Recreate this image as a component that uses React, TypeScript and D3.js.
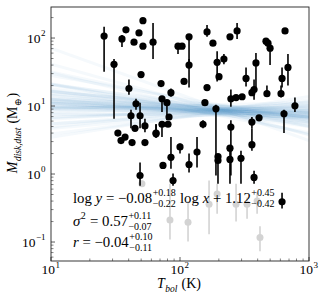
import { useEffect, useRef } from 'react'
import * as d3 from 'd3'

// detections (black): T_bol (K), M_dust (M_earth), error bar low / high
const tbol = [25.8, 30.8, 35.5, 38.1, 44, 48.1, 51.6, 51.6, 49.9, 40.2, 45.6, 41.7, 49, 44.8, 53.5, 33, 34.9, 37.5, 42.5, 53.5, 65.2, 61.8, 96.5, 103.7, 117.5, 117.5, 162, 180, 194, 219, 200.6, 244, 277, 464, 481, 499, 652, 687, 618, 388, 325, 107.5, 162, 85.1, 71.3, 72.5, 79.2, 156, 190, 248, 272, 303, 361, 375, 472, 607, 778, 640, 410, 361, 361, 150.8, 82.2, 80.7, 72.5, 65.2, 248, 100, 135.5, 85.1, 73.8, 117.5, 197, 197, 244, 244, 88.3, 297, 375, 618, 49]
const mdust = [107, 41, 97, 132, 87, 119, 180, 76, 29, 18.1, 10.8, 7.2, 7.2, 4.7, 5.1, 4.0, 3.1, 3.5, 2.9, 2.9, 4.0, 87, 76, 76, 104, 40, 123, 84, 44, 49, 27, 104, 127, 90, 84, 71, 127, 37, 25.5, 43, 25.5, 23, 18.7, 15.7, 21.4, 12.8, 11.2, 11.2, 9.1, 12.8, 13.3, 13.7, 15.7, 17.5, 15.2, 15.2, 10.1, 7.7, 6.7, 5.8, 2.7, 5.4, 6.9, 5.4, 5.4, 3.9, 4.9, 2.5, 2.1, 1.76, 1.34, 1.38, 1.8, 1.58, 2.4, 1.64, 0.8, 1.7, 0.89, 0.39, 0.95]
const mLow = [32, 6.5, 74, 132, 87, 119, 180, 76, 29, 14.7, 8.8, 4.7, 4.7, 4.7, 4.1, 4.0, 3.1, 3.5, 2.9, 2.9, 3.5, 49, 58, 76, 40, 18.7, 104, 84, 23, 41, 27, 104, 97, 90, 84, 40, 127, 20, 18.7, 18.7, 19.3, 23, 18.7, 13.7, 21.4, 8.2, 6.2, 11.2, 0.95, 9.75, 13.3, 13.7, 15.7, 12.4, 13.7, 13.3, 8.2, 4.0, 6.0, 4.7, 2.2, 4.7, 6.9, 5.4, 3.5, 3.4, 0.95, 2.0, 1.25, 1.2, 1.34, 1.05, 1.8, 0.72, 2.4, 0.72, 0.67, 0.72, 0.72, 0.31, 0.67]
const mHigh = [146, 49, 111, 132, 87, 119, 180, 76, 29, 24.6, 12.8, 8.8, 11.2, 4.7, 6.5, 4.0, 3.1, 3.5, 2.9, 2.9, 5.4, 167, 84, 76, 111, 49, 156, 84, 64, 58, 27, 104, 167, 90, 84, 79, 127, 58, 37, 60, 37, 23, 18.7, 18.1, 21.4, 12.8, 11.2, 11.2, 10.4, 17.5, 13.3, 13.7, 15.7, 24.6, 20, 20, 13.3, 8.8, 7.4, 6.9, 4.7, 6.2, 6.9, 5.4, 5.4, 5.4, 6.2, 2.8, 3.5, 3.5, 1.34, 2.0, 1.8, 1.8, 2.4, 2.4, 1.02, 2.2, 1.12, 0.53, 1.48]

// grey points
const tbolGrey = [83.6, 115.4, 168, 194, 272, 331, 396, 417, 50.7]
const mdustGrey = [0.21, 0.196, 0.36, 0.51, 0.36, 0.36, 0.4, 0.117, 0.72]
const mLowGrey = [0.109, 0.102, 0.13, 0.26, 0.2, 0.22, 0.26, 0.073, 0.65]
const mHighGrey = [0.72, 0.4, 0.8, 0.72, 0.72, 0.45, 0.53, 0.17, 0.8]

// posterior draws of log y = a + b log x
const slopes = [-0.52, -0.45, -0.4, -0.36, -0.33, -0.3, -0.28, -0.26, -0.24, -0.22, -0.2, -0.19, -0.18, -0.16, -0.15, -0.14, -0.13, -0.12, -0.11, -0.1, -0.09, -0.09, -0.08, -0.08, -0.07, -0.07, -0.06, -0.05, -0.04, -0.03, -0.02, -0.01, 0, 0.01, 0.03, 0.04, 0.06, 0.08, 0.1, 0.12, 0.14, 0.17, 0.2, 0.24, 0.3, -0.25, -0.05, -0.11, 0.02, -0.17, -0.68]
const intercepts = [2.136, 1.935, 1.9, 1.688, 1.779, 1.61, 1.604, 1.478, 1.552, 1.446, 1.36, 1.407, 1.284, 1.318, 1.355, 1.232, 1.229, 1.166, 1.223, 1.17, 1.127, 1.197, 1.124, 1.064, 1.121, 1.071, 1.078, 1.115, 0.992, 1.019, 0.906, 0.953, 0.97, 0.867, 0.881, 0.928, 0.772, 0.756, 0.64, 0.684, 0.598, 0.499, 0.49, 0.348, 0.24, 1.505, 1.045, 1.153, 0.944, 1.351, 2.53]

const xTicks = [10, 100, 1000]
const xTickExp = ['1', '2', '3']
const yTicks = [0.1, 1, 10, 100]
const yTickExp = ['−1', '0', '1', '2']

const width = 319
const height = 294
const FONT = '"Liberation Serif", "DejaVu Serif", serif'
const FS = 14
const SFS = 9.5

type Piece = { t?: string; it?: boolean; sup?: string; sub?: string; supIt?: boolean; subIt?: boolean }

// draws pieces left to right, returns total width
function drawPieces(g: any, x0: number, yb: number, pieces: Piece[], fs = FS, sfs = SFS) {
  let cx = x0
  const add = (s: string, x: number, y: number, size: number, it?: boolean) => {
    const el = g
      .append('text')
      .attr('x', x)
      .attr('y', y)
      .style('font-family', FONT)
      .style('font-size', size + 'px')
      .style('font-style', it ? 'italic' : 'normal')
      .style('white-space', 'pre')
      .attr('fill', '#000')
      .text(s)
    return el.node().getComputedTextLength()
  }
  pieces.forEach((p) => {
    if (p.t) cx += add(p.t, cx, yb, fs, p.it)
    let w = 0
    if (p.sup) w = Math.max(w, add(p.sup, cx + 0.5, yb - fs * 0.45, sfs, p.supIt))
    if (p.sub) w = Math.max(w, add(p.sub, cx + 0.5, yb + fs * 0.28, sfs, p.subIt))
    cx += w ? w + 1 : 0
  })
  return cx - x0
}

function App() {
  const ref = useRef<SVGSVGElement>(null)

  useEffect(() => {
    const svg = d3.select(ref.current)
    svg.selectAll('*').remove()

    const x = d3.scaleLog().domain([10, 1000]).range([51, 309])
    const y = d3.scaleLog().domain([0.0526, 286]).range([261, 7])

    svg.append('clipPath').attr('id', 'plot-clip').append('rect')
      .attr('x', 51).attr('y', 7).attr('width', 258).attr('height', 254)

    // regression draws
    const lines = svg.append('g').attr('clip-path', 'url(#plot-clip)')
    const xs = [10, 1000]
    slopes.forEach((b, i) => {
      const a = intercepts[i]
      const line = d3.line<number>()
        .x((t) => x(t))
        .y((t) => y(Math.pow(10, a + b * Math.log10(t))))
      lines.append('path')
        .attr('d', line(xs))
        .attr('fill', 'none')
        .attr('stroke', '#1f77b4')
        .attr('stroke-opacity', 0.045)
        .attr('stroke-width', 3)
    })

    // grey points
    const grey = svg.append('g').attr('clip-path', 'url(#plot-clip)')
    tbolGrey.forEach((t, i) => {
      grey.append('line')
        .attr('x1', x(t)).attr('x2', x(t))
        .attr('y1', y(mLowGrey[i])).attr('y2', y(mHighGrey[i]))
        .attr('stroke', '#d3d3d3').attr('stroke-width', 1.6)
      grey.append('circle')
        .attr('cx', x(t)).attr('cy', y(mdustGrey[i])).attr('r', 3.5)
        .attr('fill', '#d3d3d3')
    })

    // detections
    const pts = svg.append('g').attr('clip-path', 'url(#plot-clip)')
    tbol.forEach((t, i) => {
      if (mLow[i] !== mHigh[i]) {
        pts.append('line')
          .attr('x1', x(t)).attr('x2', x(t))
          .attr('y1', y(mLow[i])).attr('y2', y(mHigh[i]))
          .attr('stroke', '#000').attr('stroke-width', 1.6)
      }
      pts.append('circle')
        .attr('cx', x(t)).attr('cy', y(mdust[i])).attr('r', 3.6)
        .attr('fill', '#000')
    })

    // ticks (inward) on left and bottom
    const ax = svg.append('g')
    const minorX: number[] = []
    for (let d = 10; d < 1000; d *= 10) for (let k = 2; k <= 9; k++) minorX.push(d * k)
    const minorY: number[] = []
    for (let d = 0.01; d < 1000; d *= 10) for (let k = 2; k <= 9; k++) {
      const v = d * k
      if (v > 0.0526 && v < 286) minorY.push(v)
    }
    minorX.forEach((v) => ax.append('line').attr('x1', x(v)).attr('x2', x(v)).attr('y1', 261).attr('y2', 258.5).attr('stroke', '#333').attr('stroke-width', 0.6))
    xTicks.forEach((v) => ax.append('line').attr('x1', x(v)).attr('x2', x(v)).attr('y1', 261).attr('y2', 257).attr('stroke', '#333').attr('stroke-width', 0.8))
    minorY.forEach((v) => ax.append('line').attr('y1', y(v)).attr('y2', y(v)).attr('x1', 51).attr('x2', 53.5).attr('stroke', '#333').attr('stroke-width', 0.6))
    yTicks.forEach((v) => ax.append('line').attr('y1', y(v)).attr('y2', y(v)).attr('x1', 51).attr('x2', 55).attr('stroke', '#333').attr('stroke-width', 0.8))

    // frame
    svg.append('rect').attr('x', 51).attr('y', 7).attr('width', 258).attr('height', 254)
      .attr('fill', 'none').attr('stroke', '#222').attr('stroke-width', 0.9)

    // tick labels
    xTicks.forEach((v, i) => {
      const g = svg.append('g')
      const w = drawPieces(g, 0, 0, [{ t: '10', sup: xTickExp[i] }], 13.5, 9)
      g.attr('transform', `translate(${x(v) - w / 2},${274})`)
    })
    yTicks.forEach((v, i) => {
      const g = svg.append('g')
      const w = drawPieces(g, 0, 0, [{ t: '10', sup: yTickExp[i] }], 13.5, 9)
      g.attr('transform', `translate(${46 - w},${y(v) + 4.5})`)
    })

    // axis labels
    const gx = svg.append('g')
    const wx = drawPieces(gx, 0, 0, [{ t: 'T', it: true, sub: 'bol', subIt: true }, { t: ' (K)' }])
    gx.attr('transform', `translate(${179 - wx / 2},${288})`)

    const gy = svg.append('g')
    const wy = drawPieces(gy, 0, 0, [{ t: 'M', it: true, sub: 'disk,dust', subIt: true }, { t: ' (M' }, { sub: '⊕' }, { t: ')' }])
    gy.attr('transform', `translate(${17},${133 + wy / 2}) rotate(-90)`)

    // fit annotation
    const ann = svg.append('g')
    const AF = 14.8
    const AS = 10
    drawPieces(ann, 73, 203, [
      { t: 'log ' }, { t: 'y', it: true }, { t: ' = −0.08', sup: '+0.18', sub: '−0.22' },
      { t: ' log ' }, { t: 'x', it: true }, { t: ' + 1.12', sup: '+0.45', sub: '−0.42' },
    ], AF, AS)
    drawPieces(ann, 73, 226, [{ t: 'σ', it: true, sup: '2' }, { t: ' = 0.57', sup: '+0.11', sub: '−0.07' }], AF, AS)
    drawPieces(ann, 73, 247, [{ t: 'r', it: true }, { t: ' = −0.04', sup: '+0.10', sub: '−0.11' }], AF, AS)
  }, [])

  return (
    <svg
      ref={ref}
      width={width}
      height={height}
      style={{ position: 'absolute', left: 0, top: 0, background: '#fff' }}
    />
  )
}

export default App
